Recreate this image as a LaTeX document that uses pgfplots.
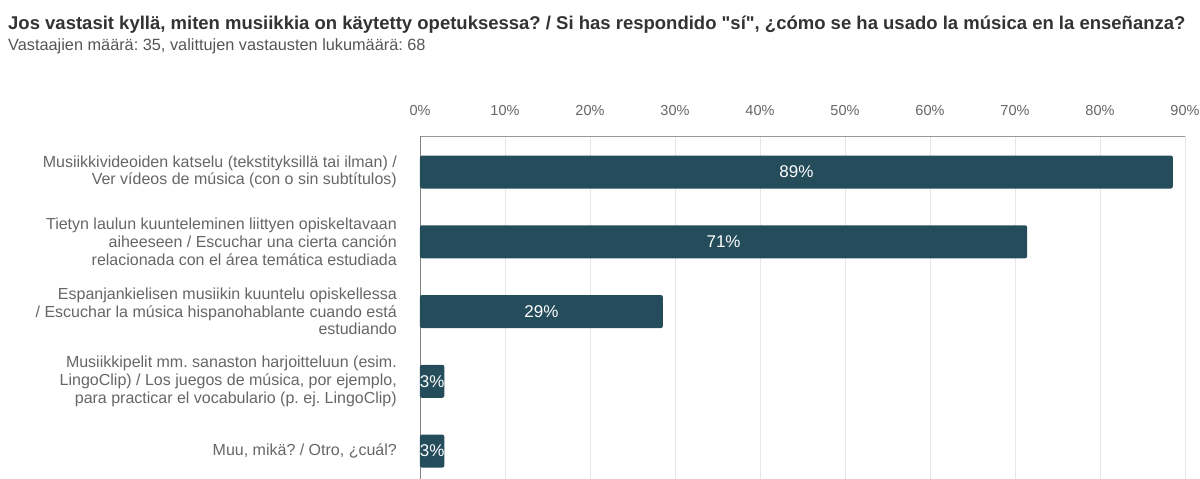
\documentclass[border=0pt]{standalone}
\usepackage{pgfplots}
\pgfplotsset{compat=1.18}
\usepackage{pgfplotstable}
\usepackage{fontspec}
\setmainfont{Liberation Sans}
\newfontfamily\qfont{Liberation Sans}
\frenchspacing
\definecolor{barc}{HTML}{244C5A}
\definecolor{titlec}{HTML}{333333}
\definecolor{subc}{HTML}{555555}
\definecolor{labc}{HTML}{666666}
\definecolor{gridc}{HTML}{E6E6E6}
\pgfplotstableread{
y v lab
0 88.57 89
1 71.43 71
2 28.57 29
3 2.86 3
4 2.86 3
}\datatable
\begin{document}
\begin{tikzpicture}[x=1pt,y=1pt]
\path[use as bounding box] (0,0) rectangle (1200,-479);
\node[anchor=base west, inner sep=0pt, text=titlec, font=\fontsize{18.5}{21}\selectfont\bfseries] at (8,-30) {Jos vastasit kyllä, miten musiikkia on käytetty opetuksessa? / Si has respondido {\qfont\bfseries\char34}sí{\qfont\bfseries\char34}, ¿cómo se ha usado la música en la enseñanza?};
\node[anchor=base west, inner sep=0pt, text=subc, font=\fontsize{16.3}{18}\selectfont] at (8,-50) {Vastaajien määrä: 35, valittujen vastausten lukumäärä: 68};
\begin{axis}[
  at={(420pt,-136pt)}, anchor=north west,
  scale only axis, width=765pt, height=343pt,
  xmin=0, xmax=90, ymin=-0.516, ymax=4.40,
  y dir=reverse,
  axis x line=top, axis y line=left,
  x axis line style={draw=black!40, -},
  y axis line style={draw=black!50, -},
  xmajorgrids, major grid style={draw=gridc},
  major tick length=0pt,
  xtick={0,10,...,90},
  xticklabels={0\%,10\%,20\%,30\%,40\%,50\%,60\%,70\%,80\%,90\%},
  xticklabel style={text=labc, font=\fontsize{14.5}{16}\selectfont, anchor=base, inner sep=0pt, yshift=21pt},
  ytick={0,1,2,3,4},
  yticklabels={
    {Musiikkivideoiden katselu (tekstityksillä tai ilman) /\\Ver vídeos de música (con o sin subtítulos)},
    {Tietyn laulun kuunteleminen liittyen opiskeltavaan\\aiheeseen / Escuchar una cierta canción\\relacionada con el área temática estudiada},
    {Espanjankielisen musiikin kuuntelu opiskellessa\\/ Escuchar la música hispanohablante cuando está\\estudiando},
    {Musiikkipelit mm. sanaston harjoitteluun (esim.\\LingoClip) / Los juegos de música, por ejemplo,\\para practicar el vocabulario (p. ej. LingoClip)},
    {Muu, mikä? / Otro, ¿cuál?}},
  yticklabel style={text=labc, font=\fontsize{16}{17.7}\selectfont, align=right, anchor=east, inner sep=0pt, xshift=-23pt},
  clip=false,
]
\addplot[xbar, bar width=33pt, bar shift=0pt, fill=barc, draw=none, rounded corners=2pt] table[x=v, y=y] {\datatable};
\addplot[draw=none, mark=none, point meta=explicit symbolic,
  nodes near coords={\pgfplotspointmeta\%},
  every node near coord/.style={anchor=center, text=white, inner sep=0pt, font=\fontsize{17}{19}\selectfont}]
  table[x expr=\thisrow{v}/2, y=y, meta=lab] {\datatable};
\end{axis}
\end{tikzpicture}
\end{document}
